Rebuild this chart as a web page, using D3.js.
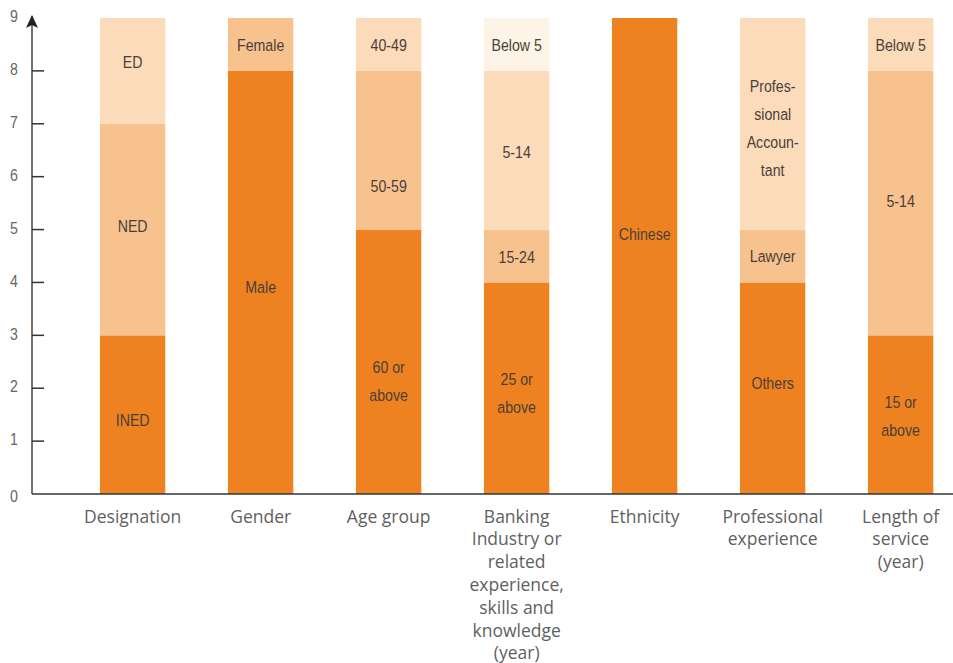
<!DOCTYPE html>
<html>
<head>
<meta charset="utf-8">
<script src="https://cdn.jsdelivr.net/npm/d3@7"></script>
<style>
  body { margin: 0; background: #fff; }
  svg { display: block; font-family: "Liberation Sans", Arial, sans-serif; }
</style>
</head>
<body>
<svg id="chart" width="953" height="663"></svg>
<script>
// categories along the bottom (| marks a line break)
const categories = [
  "Designation",
  "Gender",
  "Age group",
  "Banking|Industry or|related|experience,|skills and|knowledge|(year)",
  "Ethnicity",
  "Professional|experience",
  "Length of|service|(year)"
];
// stacked segment values, bottom to top
const segValues = [
  [3, 4, 2],
  [8, 1],
  [5, 3, 1],
  [4, 1, 3, 1],
  [9],
  [4, 1, 4],
  [3, 5, 1]
];
const segLabels = [
  ["INED", "NED", "ED"],
  ["Male", "Female"],
  ["60 or|above", "50-59", "40-49"],
  ["25 or|above", "15-24", "5-14", "Below 5"],
  ["Chinese"],
  ["Others", "Lawyer", "Profes-|sional|Accoun-|tant"],
  ["15 or|above", "5-14", "Below 5"]
];
// where each segment's label sits, in axis units
const labelAt = [
  [1.4, 5.07, 8.18],
  [3.92, 8.5],
  [2.14, 5.84, 8.5],
  [1.91, 4.48, 6.48, 8.5],
  [4.93],
  [2.1, 4.5, 6.92],
  [1.49, 5.54, 8.5]
];
const yTicks = [0, 1, 2, 3, 4, 5, 6, 7, 8, 9];

const shades = ["#EE8220", "#F8C28F", "#FCDBBB", "#FDF3E7"];

const svg = d3.select("#chart");
const axisX = 32;

const x = d3.scaleBand()
  .domain(categories)
  .range([100, 933.3])
  .paddingInner(0.49)
  .paddingOuter(0);
const y = d3.scaleLinear()
  .domain([0, 9])
  .range([494, 18]);

// flatten into segments
const segs = [];
categories.forEach((c, i) => {
  let base = 0;
  segValues[i].forEach((v, j) => {
    segs.push({ cat: c, y0: base, y1: base + v, label: segLabels[i][j], at: labelAt[i][j], idx: j });
    base += v;
  });
});

svg.append("g").selectAll("rect")
  .data(segs)
  .join("rect")
  .attr("x", d => x(d.cat))
  .attr("width", x.bandwidth())
  .attr("y", d => y(d.y1))
  .attr("height", d => y(d.y0) - y(d.y1))
  .attr("fill", d => shades[d.idx]);

// labels inside bars (squeezed sideways to look like a condensed face)
const inner = svg.append("g")
  .attr("font-size", 16.5)
  .attr("fill", "#4a3f38")
  .attr("text-anchor", "middle");
segs.forEach(d => {
  const lines = d.label.split("|");
  const lh = 28;
  const cy = y(d.at);
  const cx = x(d.cat) + x.bandwidth() / 2;
  const t = inner.append("text")
    .attr("transform", `translate(${cx},0) scale(0.86,1)`)
    .attr("dominant-baseline", "central");
  lines.forEach((l, k) => {
    t.append("tspan")
      .attr("x", 0)
      .attr("y", cy + (k - (lines.length - 1) / 2) * lh)
      .text(l);
  });
});

// baseline
svg.append("line")
  .attr("x1", axisX).attr("x2", 953)
  .attr("y1", y(0)).attr("y2", y(0))
  .attr("stroke", "#333").attr("stroke-width", 1.5);

// y axis with arrow
svg.append("line")
  .attr("x1", axisX).attr("x2", axisX)
  .attr("y1", y(9) - 2).attr("y2", y(0))
  .attr("stroke", "#444").attr("stroke-width", 1.5);
svg.append("path")
  .attr("d", `M${axisX - 6},${y(9) + 10}L${axisX},${y(9) - 3}L${axisX + 6},${y(9) + 10}L${axisX},${y(9) + 7}Z`)
  .attr("fill", "#222");

svg.append("g").selectAll("line")
  .data(yTicks.filter(t => t > 0 && t < 9))
  .join("line")
  .attr("x1", axisX).attr("x2", axisX + 12)
  .attr("y1", d => y(d)).attr("y2", d => y(d))
  .attr("stroke", "#333").attr("stroke-width", 1.5);

svg.append("g").selectAll("text")
  .data(yTicks)
  .join("text")
  .attr("transform", d => `translate(14,${y(d)}) scale(0.86,1)`)
  .attr("dy", d => d === 0 ? "0.1em" : "-0.1em")
  .attr("text-anchor", "middle")
  .attr("dominant-baseline", "central")
  .attr("font-size", 16.5)
  .attr("fill", "#666")
  .text(d => d);

// category labels
const cat = svg.append("g")
  .attr("font-family", "'Open Sans', sans-serif")
  .attr("font-size", 17.5)
  .attr("fill", "#5f5f5f")
  .attr("text-anchor", "middle");
categories.forEach(c => {
  const t = cat.append("text");
  c.split("|").forEach((l, k) => {
    t.append("tspan")
      .attr("x", x(c) + x.bandwidth() / 2)
      .attr("y", 522.5 + k * 22.8)
      .text(l);
  });
});
</script>
</body>
</html>
